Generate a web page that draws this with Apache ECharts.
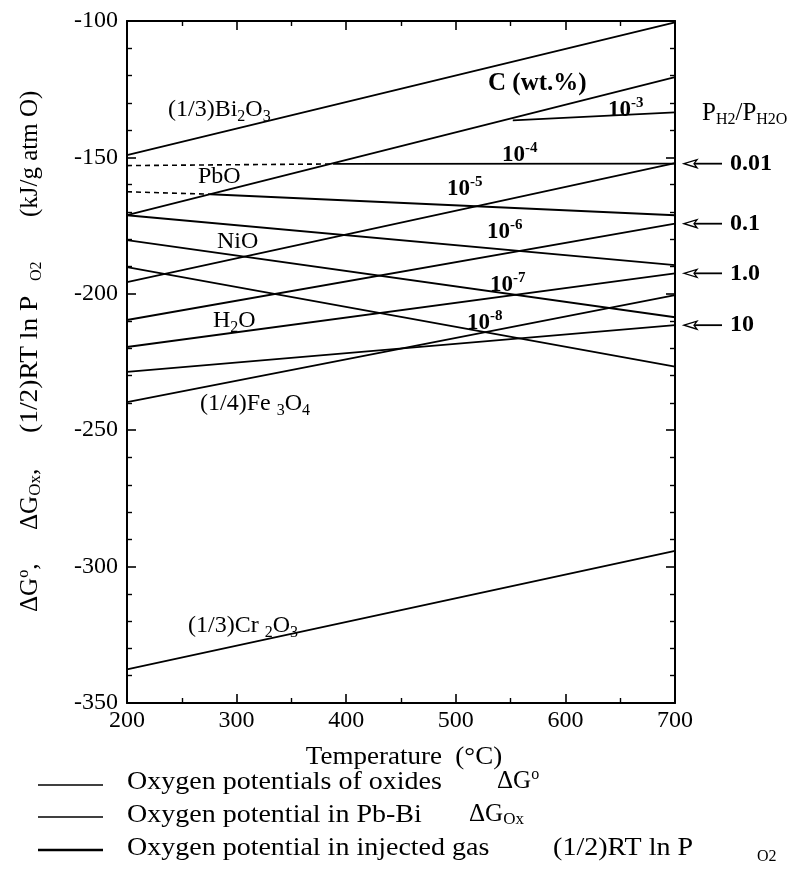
<!DOCTYPE html>
<html><head><meta charset="utf-8">
<script src="https://cdn.jsdelivr.net/npm/echarts@6/dist/echarts.min.js"></script>
<style>html,body{margin:0;padding:0;background:#fff}#c{width:801px;height:880px}</style>
</head><body><div id="c"></div>
<script>
// ---- axis ranges / ticks ----
const xRange = [200, 700];
const yRange = [-350, -100];
const xTickStep = 100;
const yTickStep = 50;

// ---- oxygen potentials of oxides, ΔG° (kJ/g atm O) at 200 and 700 °C ----
const bi2o3 = [[200, -149.2], [700, -100.5]];
const pbo   = [[200, -171.2], [700, -120.6]];
const nio   = [[200, -195.7], [700, -152.1]];
const h2o   = [[200, -219.5], [700, -192.5]];
const fe3o4 = [[200, -239.7], [700, -200.5]];
const cr2o3 = [[200, -337.7], [700, -294.2]];

// ---- gas lines (1/2)RT ln PO2 for PH2/PH2O ----
const gas01 = [[200, -209.6], [700, -174.3]];
const gas10 = [[200, -228.6], [700, -211.5]];

// ---- oxygen potential in Pb-Bi, ΔGOx, for C (wt.%) ----
const c1e3 = [[552, -136.4], [700, -133.5]];
const c1e4 = [[388, -152.4], [700, -152.3]];
const c1e4Ext = [[200, -153.0], [388, -152.4]];
const c1e5 = [[276, -163.5], [700, -171.2]];
const c1e5Ext = [[200, -162.6], [276, -163.5]];
const c1e6 = [[200, -171.2], [700, -189.5]];
const c1e7 = [[200, -180.3], [700, -208.6]];
const c1e8 = [[200, -190.2], [700, -226.7]];

// ---- PH2/PH2O arrows on the right axis ----
const ratioLabels = ['0.01', '0.1', '1.0', '10'];
const ratioValues = [-152.3, -174.3, -192.5, -211.5];

const FONT = "'Liberation Serif','Times New Roman',serif";
const solid = [bi2o3, pbo, nio, h2o, fe3o4, cr2o3, gas01, gas10, c1e3, c1e4, c1e5, c1e6, c1e7, c1e8];
const dashed = [c1e4Ext, c1e5Ext];

const series = [];
solid.forEach(d => series.push({type:'line', data:d, symbol:'none', silent:true,
  lineStyle:{color:'#000', width:1.8}}));
dashed.forEach(d => series.push({type:'line', data:d, symbol:'none', silent:true,
  lineStyle:{color:'#000', width:1.6, type:[5,4]}}));

const axisCommon = {
  type:'value', min:xRange[0], max:xRange[1], interval:xTickStep,
  axisLine:{show:true, onZero:false, lineStyle:{color:'#000', width:2}},
  axisTick:{show:true, inside:true, length:9, lineStyle:{color:'#000', width:1.6}},
  minorTick:{show:true, splitNumber:2, length:5, lineStyle:{color:'#000', width:1.4}},
  splitLine:{show:false}
};
const yCommon = {
  type:'value', min:yRange[0], max:yRange[1], interval:yTickStep,
  axisLine:{show:true, onZero:false, lineStyle:{color:'#000', width:2}},
  axisTick:{show:true, inside:true, length:9, lineStyle:{color:'#000', width:1.6}},
  minorTick:{show:true, splitNumber:5, length:5, lineStyle:{color:'#000', width:1.4}},
  splitLine:{show:false}
};

function mk(o, extra) { return Object.assign({}, o, extra || {}); }
const sub = {fontSize:16, fontFamily:FONT, color:'#000', verticalAlign:'bottom', lineHeight:16};
const sup = {fontSize:15, fontFamily:FONT, color:'#000', verticalAlign:'top', lineHeight:15};
const base = {fontSize:23, fontFamily:FONT, color:'#000', lineHeight:29};
const supB = mk(sup, {fontWeight:'bold'});
const baseB = mk(base, {fontWeight:'bold'});

function txt(x, y, text, rich, extra, el) {
  return Object.assign({type:'text', x:x, y:y, silent:true,
    style:Object.assign({text:text, rich:rich, fill:'#000', font:'23px ' + FONT,
      textAlign:'left', textVerticalAlign:'middle'}, extra || {})}, el || {});
}
function vtxt(x, y, text, rich, extra, el) {
  return txt(x, y, text, rich, extra, Object.assign({rotation:Math.PI / 2}, el || {}));
}
const oxRich = {b:mk(base, {fontSize:24}), s:sub};
const cRich = {b:baseB, p:supB};

const graphics = [
  txt(168, 110, '{b|(1/3)Bi}{s|2}{b|O}{s|3}', oxRich),
  txt(198, 177, '{b|PbO}', oxRich),
  txt(217, 242, '{b|NiO}', oxRich),
  txt(213, 321, '{b|H}{s|2}{b|O}', oxRich),
  txt(200, 404, '{b|(1/4)Fe }{s|3}{b|O}{s|4}', oxRich),
  txt(188, 626, '{b|(1/3)Cr }{s|2}{b|O}{s|3}', oxRich),
  txt(488, 84, '{b|C (wt.%)}', {b:mk(baseB, {fontSize:25})}),
  txt(608, 110, '{b|10}{p|-3}', cRich),
  txt(502, 155, '{b|10}{p|-4}', cRich),
  txt(447, 189, '{b|10}{p|-5}', cRich),
  txt(487, 232, '{b|10}{p|-6}', cRich),
  txt(490, 285, '{b|10}{p|-7}', cRich),
  txt(467, 323, '{b|10}{p|-8}', cRich),
  txt(702, 113, '{b|P}{s|H2}{b|/P}{s|H2O}', {b:mk(base, {fontSize:25}), s:mk(sub, {fontSize:16})}),
  // x axis title
  txt(404, 757, 'Temperature  (°C)', null, {textAlign:'center', font:'25px ' + FONT}, {scaleX:1.08}),
  // y axis title pieces (reading bottom to top)
  vtxt(30, 612, '{b|ΔG}{p|o}{b|,}', {b:mk(base, {fontSize:25}), p:mk(sup, {fontSize:16})}),
  vtxt(30, 530, '{b|ΔG}{s|Ox}{b|,}', {b:mk(base, {fontSize:25}), s:mk(sub, {fontSize:17})}),
  vtxt(30, 433, '(1/2)RT ln P', null, {font:'25px ' + FONT}, {scaleX:1.1}),
  vtxt(37, 281, 'O2', null, {font:'16px ' + FONT}),
  vtxt(30, 217, '(kJ/g atm O)', null, {font:'25px ' + FONT}),
  // legend
  {type:'line', silent:true, shape:{x1:38, y1:785, x2:103, y2:785}, style:{stroke:'#000', lineWidth:1.5}},
  {type:'line', silent:true, shape:{x1:38, y1:817, x2:103, y2:817}, style:{stroke:'#000', lineWidth:1.6}},
  {type:'line', silent:true, shape:{x1:38, y1:850, x2:103, y2:850}, style:{stroke:'#000', lineWidth:2.6}},
  txt(127, 782, 'Oxygen potentials of oxides', null, {font:'25px ' + FONT}, {scaleX:1.12}),
  txt(497, 781, '{b|ΔG}{p|o}', {b:mk(base, {fontSize:25}), p:mk(sup, {fontSize:16})}),
  txt(127, 815, 'Oxygen potential in Pb-Bi', null, {font:'25px ' + FONT}, {scaleX:1.12}),
  txt(469, 814, '{b|ΔG}{s|Ox}', {b:mk(base, {fontSize:25}), s:mk(sub, {fontSize:17})}),
  txt(127, 848, 'Oxygen potential in injected gas', null, {font:'25px ' + FONT}, {scaleX:1.12}),
  txt(693, 848, '(1/2)RT ln P', null, {font:'25px ' + FONT, textAlign:'right'}, {scaleX:1.12}),
  txt(757, 857, 'O2', null, {font:'16px ' + FONT})
];

const chart = echarts.init(document.getElementById('c'), null, {renderer:'canvas'});
const option = {
  animation:false,
  backgroundColor:'#fff',
  grid:{left:127, right:126, top:21, bottom:177},
  xAxis:[
    mk(axisCommon, {position:'bottom',
      axisLabel:{color:'#000', fontSize:24, fontFamily:FONT, margin:6}}),
    mk(axisCommon, {position:'top', axisLabel:{show:false}})
  ],
  yAxis:[
    mk(yCommon, {position:'left',
      axisLabel:{color:'#000', fontSize:24, fontFamily:FONT, margin:9}}),
    mk(yCommon, {position:'right', axisLabel:{show:false}})
  ],
  series:series,
  graphic:graphics
};
chart.setOption(option);

// arrows pointing at the gas-line levels on the right axis
const arrowEls = [];
ratioValues.forEach((v, i) => {
  const p = chart.convertToPixel({xAxisIndex:0, yAxisIndex:0}, [xRange[1], v]);
  const tip = p[0] + 9, y = p[1];
  arrowEls.push({type:'line', silent:true, shape:{x1:tip + 10, y1:y, x2:tip + 38, y2:y},
    style:{stroke:'#000', lineWidth:1.8}});
  arrowEls.push({type:'polygon', silent:true,
    shape:{points:[[tip, y], [tip + 13, y - 4], [tip + 10, y], [tip + 13, y + 4]]},
    style:{fill:'#fff', stroke:'#000', lineWidth:1.3}});
  arrowEls.push(txt(tip + 46, y, ratioLabels[i], null, {font:'bold 24px ' + FONT}));
});
chart.setOption({graphic:graphics.concat(arrowEls)});
</script></body></html>
